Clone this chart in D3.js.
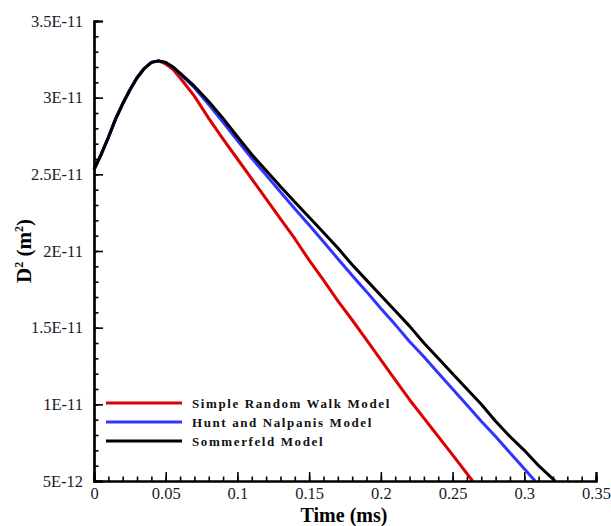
<!DOCTYPE html>
<html>
<head>
<meta charset="utf-8">
<script src="https://cdn.jsdelivr.net/npm/d3@7"></script>
<style>
  body { margin: 0; background: #fff; }
  svg text { font-family: "Liberation Serif", "DejaVu Serif", serif; }
</style>
</head>
<body>
<div id="chart"></div>
<script>
// time in ms, D^2 in units of 1E-12 m^2
var rise_t = [0, 0.005, 0.01, 0.015, 0.02, 0.025, 0.03, 0.035, 0.04, 0.045]
var rise_v = [25.3, 26.3, 27.4, 28.6, 29.6, 30.5, 31.3, 31.9, 32.3, 32.4]

var black_t = [0.05, 0.055, 0.06, 0.07, 0.08, 0.09, 0.1, 0.11, 0.12, 0.13, 0.14, 0.15, 0.16, 0.17, 0.18, 0.19, 0.2, 0.21, 0.22, 0.23, 0.24, 0.25, 0.26, 0.27, 0.28, 0.29, 0.3, 0.31, 0.3215]
var black_v = [32.3, 32.0, 31.6, 30.75, 29.75, 28.65, 27.45, 26.3, 25.25, 24.2, 23.2, 22.2, 21.2, 20.2, 19.1, 18.1, 17.1, 16.1, 15.1, 14.0, 13.0, 12.0, 11.0, 10.0, 8.9, 7.9, 7.0, 6.0, 5.0]

var blue_t = [0.05, 0.055, 0.06, 0.07, 0.08, 0.09, 0.1, 0.11, 0.12, 0.13, 0.14, 0.15, 0.16, 0.17, 0.18, 0.19, 0.2, 0.21, 0.22, 0.23, 0.24, 0.25, 0.26, 0.27, 0.28, 0.29, 0.3, 0.3075]
var blue_v = [32.3, 32.0, 31.55, 30.65, 29.55, 28.4, 27.2, 26.05, 24.95, 23.85, 22.75, 21.7, 20.6, 19.5, 18.4, 17.35, 16.25, 15.2, 14.1, 13.1, 12.05, 11.0, 9.95, 8.9, 7.9, 6.85, 5.8, 5.0]

var red_t = [0.05, 0.055, 0.06, 0.07, 0.08, 0.09, 0.1, 0.11, 0.12, 0.13, 0.14, 0.15, 0.16, 0.17, 0.18, 0.19, 0.2, 0.21, 0.22, 0.23, 0.24, 0.25, 0.264]
var red_v = [32.2, 31.85, 31.3, 30.1, 28.65, 27.3, 26.0, 24.7, 23.4, 22.1, 20.8, 19.4, 18.1, 16.75, 15.5, 14.2, 12.9, 11.6, 10.3, 9.1, 7.9, 6.7, 5.0]

var series_names = ["Simple Random Walk Model", "Hunt and Nalpanis Model", "Sommerfeld Model"]
var series_colors = ["#dd0000", "#3333ff", "#000000"]

var x_ticks = [0, 0.05, 0.1, 0.15, 0.2, 0.25, 0.3, 0.35]
var x_labels = ["0", "0.05", "0.1", "0.15", "0.2", "0.25", "0.3", "0.35"]
var y_ticks = [5, 10, 15, 20, 25, 30, 35]
var y_labels = ["5E-12", "1E-11", "1.5E-11", "2E-11", "2.5E-11", "3E-11", "3.5E-11"]

var serif = '"Liberation Serif", "DejaVu Serif", serif'

function make_points(ts, vs) {
    var pts = []
    for (var i = 0; i < rise_t.length; ++i) pts.push([rise_t[i], rise_v[i]])
    for (var i = 0; i < ts.length; ++i) pts.push([ts[i], vs[i]])
    return pts
}
var all_series = [make_points(red_t, red_v), make_points(blue_t, blue_v), make_points(black_t, black_v)]

var width = 611, height = 526
var plot = { left: 94, right: 596, top: 21, bottom: 481 }

var x_scale = d3.scaleLinear().domain([0, 0.35]).range([plot.left, plot.right])
var y_scale = d3.scaleLinear().domain([5, 35]).range([plot.bottom, plot.top])

var svg = d3.select("#chart").append("svg")
    .attr("width", width)
    .attr("height", height)

// curves
var line = d3.line()
    .x(function (d) { return x_scale(d[0]) })
    .y(function (d) { return y_scale(d[1]) })

svg.selectAll(".curve").data(all_series)
    .enter().append("path")
    .attr("class", "curve")
    .attr("d", line)
    .attr("fill", "none")
    .attr("stroke", function (d, i) { return series_colors[i] })
    .attr("stroke-width", 3)
    .attr("stroke-linejoin", "round")

// minor ticks
var x_minor = d3.range(0, 36).map(function (d) { return d / 100 })
var y_minor = d3.range(5, 36)
svg.append("g")
    .attr("transform", "translate(0," + plot.bottom + ")")
    .call(d3.axisBottom(x_scale).tickValues(x_minor).tickSize(-4.5).tickFormat(""))
svg.append("g")
    .attr("transform", "translate(" + plot.left + ",0)")
    .call(d3.axisLeft(y_scale).tickValues(y_minor).tickSize(-4.5).tickFormat(""))

// major ticks + labels
svg.append("g")
    .attr("transform", "translate(0," + plot.bottom + ")")
    .call(d3.axisBottom(x_scale).tickValues(x_ticks).tickSize(-9).tickPadding(6)
        .tickFormat(function (d, i) { return x_labels[i] }))
svg.append("g")
    .attr("transform", "translate(" + plot.left + ",0)")
    .call(d3.axisLeft(y_scale).tickValues(y_ticks).tickSize(-9).tickPadding(11)
        .tickFormat(function (d, i) { return y_labels[i] }))

svg.selectAll(".domain").attr("stroke", "#000").attr("stroke-width", 2.2)
svg.selectAll(".tick line").attr("stroke", "#000").attr("stroke-width", 1.6)
svg.selectAll(".tick text")
    .style("font-family", serif)
    .style("font-size", "16.5px")
    .attr("fill", "#1a1a2a")

// axis titles
svg.append("text")
    .attr("x", 344)
    .attr("y", 522)
    .attr("text-anchor", "middle")
    .style("font-family", serif)
    .style("font-weight", "bold")
    .style("font-size", "20px")
    .text("Time (ms)")

var y_title = svg.append("text")
    .attr("transform", "translate(31,251) rotate(-90)")
    .attr("text-anchor", "middle")
    .style("font-family", serif)
    .style("font-weight", "bold")
    .style("font-size", "21px")
y_title.append("tspan").text("D")
y_title.append("tspan").attr("dy", -8).style("font-size", "12px").text("2")
y_title.append("tspan").attr("dy", 8).text(" (m")
y_title.append("tspan").attr("dy", -8).style("font-size", "12px").text("2")
y_title.append("tspan").attr("dy", 8).text(")")

// legend
var legend = svg.selectAll(".legend").data(series_names)
    .enter().append("g")
    .attr("class", "legend")
    .attr("transform", function (d, i) { return "translate(106," + (403 + i * 19) + ")" })
legend.append("line")
    .attr("x1", 0).attr("x2", 76)
    .attr("stroke", function (d, i) { return series_colors[i] })
    .attr("stroke-width", 3)
legend.append("text")
    .attr("x", 86)
    .attr("y", 4.5)
    .style("font-family", serif)
    .style("font-weight", "bold")
    .style("font-size", "13px")
    .style("letter-spacing", "1.6px")
    .attr("fill", "#111")
    .text(function (d) { return d })
</script>
</body>
</html>
